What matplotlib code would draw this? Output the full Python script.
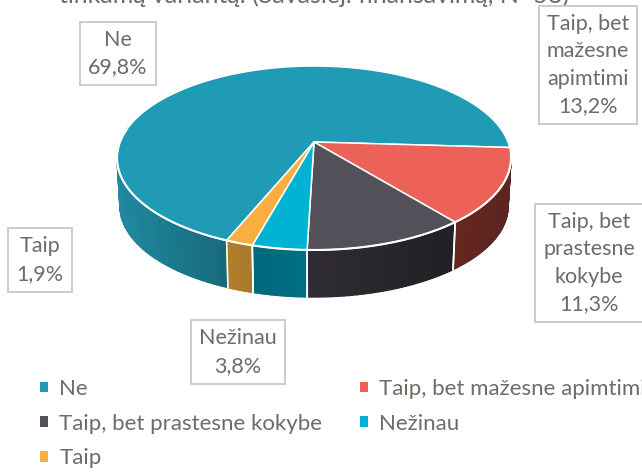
import numpy as np
import matplotlib
matplotlib.use("Agg")
import matplotlib.pyplot as plt
from matplotlib.colors import to_rgb
from matplotlib.patches import Patch

# data
labels = ["Ne", "Taip, bet mažesne apimtimi", "Taip, bet prastesne kokybe", "Nežinau", "Taip"]
box_labels = ["Ne", "Taip, bet\nmažesne\napimtimi", "Taip, bet\nprastesne\nkokybe", "Nežinau", "Taip"]
values = [69.8, 13.2, 11.3, 3.8, 1.9]
pct_labels = ["69,8%", "13,2%", "11,3%", "3,8%", "1,9%"]
title = "tinkamą variantą. (Savasiej. finansavimą, N=53)"

colors = ["#1f9bb5", "#ec6158", "#54505a", "#00b2d3", "#f9af40"]
side_left = ["#1f8aa0", "#66271f", "#302c33", "#00697c", "#b07f2d"]
side_right = ["#186a7b", "#5a2522", "#222024", "#007085", "#a87a2c"]
box_pos = [(118, 53.5), (588, 65), (589, 263), (238, 352), (40, 260)]

TEXT = "#6f6b66"
plt.rcParams["font.family"] = ["Lato", "DejaVu Sans"]

# disc geometry, pixels
cx, cy = 314, 142
A, B, k = 194, 89.2, 0.174
depth, shrink = 48.6, 0.985
start = 247.8


def rim(theta, lower=False):
    t = np.radians(theta)
    d = 1 + k * np.sin(t)
    u = A * np.cos(t) / d
    v = B * np.sin(t) / d
    if lower:
        return cx + u * shrink, cy - v * shrink + depth
    return cx + u, cy - v


fig = plt.figure(figsize=(6.42, 4.73), dpi=100)
ax = fig.add_axes([0, 0, 1, 1])
ax.set_xlim(0, 642)
ax.set_ylim(473, 0)
ax.axis("off")

angles = start - np.cumsum([0] + values) * 3.6

# side wall first, only the part that faces the viewer
for i in range(len(values)):
    if i == 0:
        vis0, vis1 = angles[0] - 360, -190
    else:
        vis0, vis1 = min(angles[i], -10), angles[i + 1]
    steps = np.linspace(vis0, vis1, 41)
    c0, c1 = np.array(to_rgb(side_left[i])), np.array(to_rgb(side_right[i]))
    xs = rim(steps)[0]
    for j in range(40):
        th = steps[j:j + 2]
        xt, yt = rim(th)
        xb, yb = rim(th, True)
        mix = (xs[j] - xs.min()) / (xs.max() - xs.min())
        ax.fill(np.r_[xt, xb[::-1]], np.r_[yt, yb[::-1]], color=c0 + (c1 - c0) * mix, lw=1.0, zorder=2)
    # white joins between the slices
    if i > 0:
        for a in (angles[i], angles[i + 1]):
            xt, yt = rim(a)
            xb, yb = rim(a, True)
            if a < -10:
                ax.plot([xt, xb], [yt, yb], color="white", lw=1.2, zorder=3)

# top face
for i in range(len(values)):
    th = np.linspace(angles[i], angles[i + 1], 200)
    xt, yt = rim(th)
    ax.fill(np.r_[cx, xt], np.r_[cy, yt], facecolor=colors[i], edgecolor="white", lw=1.1,
            joinstyle="round", zorder=4)

# thicker white edge on the front of the disc
xt, yt = rim(np.linspace(-8, -188, 200))
ax.plot(xt, yt, color="white", lw=1.5, zorder=5)

# data labels
for i in range(len(values)):
    ax.text(box_pos[i][0], box_pos[i][1], box_labels[i] + "\n" + pct_labels[i], ha="center", va="center",
            fontsize=15.5, color=TEXT, linespacing=1.45, zorder=6,
            bbox=dict(boxstyle="square,pad=0.38", fc="white", ec="#c8c8c8", lw=1.3))

ax.text(314, -5, title, ha="center", va="center", fontsize=18, color=TEXT, zorder=5)

# legend, matplotlib fills columns first
order = [0, 2, 4, 1, 3]
handles = [Patch(facecolor=colors[i], label=labels[i]) for i in order]
ax.legend(handles=handles, ncols=2, loc="upper left", bbox_to_anchor=(40 / 642, 1 - 379 / 473),
          frameon=False, fontsize=16, labelcolor=TEXT, handlelength=0.37, handleheight=0.37,
          handletextpad=0.5, columnspacing=1.7, labelspacing=0.66, borderaxespad=0, borderpad=0)

fig.savefig("out.png", dpi=100)
